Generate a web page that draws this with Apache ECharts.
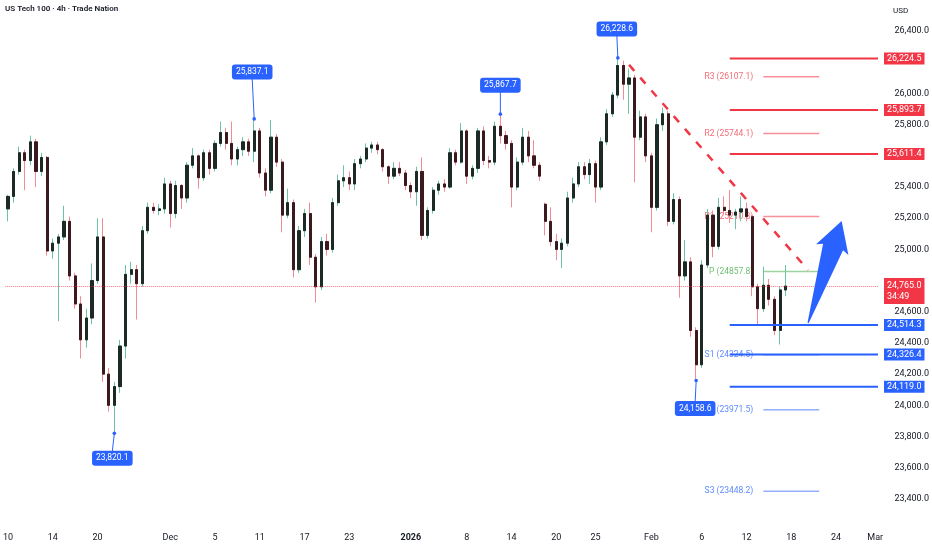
<!DOCTYPE html>
<html><head><meta charset="utf-8">
<script src="https://cdn.jsdelivr.net/npm/echarts@6/dist/echarts.min.js"></script>
<style>html,body{margin:0;padding:0;background:#fff}#c{width:932px;height:550px}</style>
</head><body><div id="c"></div>
<script>
// ---------- data ----------
const slotCount = 156;
const tickSlots  = [0, 8, 16, 29, 37, 45, 53, 61, 72, 82, 90, 98, 105, 115, 124, 132, 140, 148, 155];
const tickLabels = ['10','14','20','Dec','5','11','17','23','2026','8','14','20','25','Feb','6','12','18','24','Mar'];
// [open, high, low, close]
const candles = [
[25260,25350,25180,25340],[25340,25520,25300,25500],[25500,25660,25480,25620],[25620,25640,25380,25570],
[25570,25730,25540,25690],[25690,25710,25400,25500],[25500,25620,25470,25590],[25590,25600,24960,24990],
[24990,25070,24940,25040],[25040,25100,24540,25080],[25080,25280,25060,25180],[25180,25210,24800,24830],
[24830,24850,24620,24650],[24650,24700,24300,24420],[24420,24620,24370,24560],[24560,24910,24520,24800],
[24800,25200,24780,25080],[25080,25200,24150,24200],[24200,24240,23960,24000],[24000,24150,23820.1,24120],
[24120,24420,24080,24380],[24380,24900,24300,24840],[24840,24920,24780,24870],[24870,24900,24550,24780],
[24780,25150,24760,25120],[25120,25300,25100,25270],[25270,25300,25230,25250],[25250,25290,25220,25260],
[25260,25460,25230,25420],[25420,25440,25140,25230],[25230,25440,25200,25410],[25410,25420,25260,25330],
[25330,25560,25300,25540],[25540,25650,25520,25600],[25600,25610,25390,25460],[25460,25640,25440,25620],
[25620,25640,25480,25520],[25520,25700,25500,25680],[25680,25820,25660,25750],[25750,25780,25640,25680],
[25680,25820,25540,25580],[25580,25660,25540,25640],[25640,25720,25600,25690],[25690,25710,25600,25630],
[25630,25837.1,25560,25760],[25760,25780,25460,25490],[25490,25520,25340,25380],[25380,25830,25360,25720],
[25720,25740,25530,25560],[25560,25580,25110,25220],[25220,25390,25200,25300],[25300,25320,24820,24870],
[24870,25150,24850,25120],[25120,25260,25080,25230],[25230,25300,24900,24950],[24950,24970,24660,24760],
[24760,25080,24740,25050],[25050,25100,24960,25000],[25000,25330,24980,25300],[25300,25480,25280,25440],
[25440,25540,25400,25460],[25460,25500,25380,25420],[25420,25580,25380,25550],[25550,25600,25520,25580],
[25580,25680,25560,25650],[25650,25690,25620,25670],[25670,25690,25610,25640],[25640,25650,25500,25530],
[25530,25540,25420,25470],[25470,25560,25450,25520],[25520,25560,25470,25490],[25490,25510,25380,25410],
[25410,25430,25330,25370],[25370,25530,25280,25500],[25500,25590,25060,25090],[25090,25270,25070,25250],
[25250,25400,25230,25380],[25380,25440,25350,25420],[25420,25450,25370,25400],[25400,25650,25390,25620],
[25620,25640,25540,25560],[25560,25810,25550,25760],[25760,25770,25420,25470],[25470,25540,25450,25520],
[25520,25780,25490,25760],[25760,25790,25540,25570],[25570,25600,25520,25560],[25560,25820,25540,25790],
[25790,25867.7,25680,25730],[25730,25760,25640,25680],[25680,25700,25270,25400],[25400,25590,25380,25560],
[25560,25780,25540,25720],[25720,25760,25560,25600],[25600,25700,25520,25540],[25540,25560,25440,25470],
[25290,25300,25090,25180],[25180,25270,25020,25050],[25050,25100,24930,25000],[25000,25070,24880,25040],
[25040,25370,25020,25330],[25330,25460,25300,25420],[25420,25560,25400,25530],[25530,25560,25450,25480],
[25480,25580,25420,25550],[25550,25570,25300,25400],[25400,25720,25380,25690],[25690,25900,25670,25870],
[25870,26010,25850,25990],[25990,26228.6,25970,26180],[26180,26210,25960,26060],[26060,26160,25870,26100],
[26100,26120,25430,25720],[25720,25890,25700,25850],[25850,25870,25560,25600],[25600,25620,25110,25270],
[25270,25840,25250,25800],[25800,25910,25760,25870],[25870,25890,25150,25180],[25180,25360,25160,25320],
[25320,25340,24690,24830],[24830,25060,24800,24920],[24920,24950,24440,24480],[24480,24500,24158.6,24260],
[24260,24930,24240,24900],[24900,25260,24880,25220],[25220,25250,24950,25020],[25020,25330,25000,25270],
[25270,25340,25220,25250],[25250,25380,25170,25220],[25220,25260,25130,25240],[25240,25340,25180,25260],
[25260,25300,25180,25210],[25210,25220,24700,24760],[24760,24780,24520,24620],[24620,24890,24600,24770],
[24770,24810,24640,24680],[24680,24700,24450,24480],[24480,24760,24390,24740],[24740,24900,24700,24765]
];
const callouts = [[44, 25837.1], [88, 25867.7], [109, 26228.6], [123, 24158.6], [19, 23820.1]];
const resistanceLevels = [26224.5, 25893.7, 25611.4];
const supportLevels = [24514.3, 24326.4, 24119.0];
const pivotNames  = ['R3', 'R2', 'R1', 'P', 'S1', 'S2', 'S3'];
const pivotValues = [26107.1, 25744.1, 25210.8, 24857.8, 24324.5, 23971.5, 23448.2];
const lastPrice = 24765.0;
const countdown = '34:49';
const trendline = [[111, 26184], [143, 24868]];
const arrowPath = [[143, 24528], [149, 25182]];
const levelStartSlot = 129;
const pivotSlots = [135, 145];

// ---------- styles / helpers ----------
const FONT = 'Roboto, "Noto Sans", sans-serif';
const RED = '#f23645', BLUE = '#2962ff';
const fmt = v => Number(v).toLocaleString('en-US', {minimumFractionDigits: 1, maximumFractionDigits: 1});
const boxed = resistanceLevels.concat(supportLevels, [lastPrice]);
const calloutOffsets = [[-2, -47], [0, -29], [-1, -29], [-1, 28], [-2, 25]];
const categories = Array.from({length: slotCount}, (_, i) => String(i));
const wickData = candles.map(c => [c[0], c[3], c[2], c[1]]);
const bodyData = candles.map(c => [c[0], c[3], Math.min(c[0], c[3]), Math.max(c[0], c[3])]);

const chart = echarts.init(document.getElementById('c'), null, {renderer: 'canvas'});
chart.setOption({
  animation: false,
  backgroundColor: '#ffffff',
  title: {text: 'US Tech 100 · 4h · Trade Nation', left: 5, top: 5, padding: 0,
    textStyle: {fontFamily: FONT, fontSize: 8, fontWeight: 600, color: '#131722'}},
  graphic: [{type: 'text', left: 893, top: 7, style: {text: 'USD', font: '8px ' + FONT, fill: '#131722'}}],
  grid: {left: 0, right: 54, top: 0, bottom: 20},
  xAxis: {
    type: 'category', data: categories, boundaryGap: true,
    axisLine: {show: false}, axisTick: {show: false}, splitLine: {show: false},
    axisLabel: {
      margin: 3, fontFamily: FONT, fontSize: 9, color: '#131722',
      interval: (idx) => tickSlots.indexOf(idx) >= 0,
      formatter: (val, idx) => {
        const k = tickSlots.indexOf(idx);
        if (k < 0) return '';
        return tickLabels[k] === '2026' ? '{b|2026}' : tickLabels[k];
      },
      rich: {b: {fontWeight: 'bold', fontFamily: FONT, fontSize: 9, color: '#131722'}}
    }
  },
  yAxis: {
    type: 'value', position: 'right', min: 23200, max: 26600, interval: 200, scale: true,
    axisLine: {show: false}, axisTick: {show: false}, splitLine: {show: false},
    axisLabel: {
      margin: 51, align: 'right', fontFamily: FONT, fontSize: 9, color: '#131722',
      showMinLabel: false, showMaxLabel: false,
      formatter: v => boxed.some(b => Math.abs(b - v) < 50) ? '' : fmt(v)
    }
  },
  series: [
    { // pivot lines (behind candles)
      type: 'custom', clip: false, z: 1, silent: true,
      data: pivotValues.map((v, k) => [pivotSlots[0], v, k]),
      renderItem: (params, api) => {
        const v = api.value(1), k = api.value(2);
        const a = api.coord([pivotSlots[0], v]), b = api.coord([pivotSlots[1], v]);
        const n = pivotNames[k];
        const lc = n[0] === 'R' ? 'rgba(242,54,69,0.55)' : n[0] === 'P' ? 'rgba(76,175,80,0.55)' : 'rgba(41,98,255,0.5)';
        const tc = n[0] === 'R' ? 'rgba(242,54,69,0.75)' : n[0] === 'P' ? 'rgba(76,175,80,0.8)' : 'rgba(41,98,255,0.75)';
        return {type: 'group', children: [
          {type: 'line', shape: {x1: a[0], y1: a[1], x2: b[0], y2: b[1]}, style: {stroke: lc, lineWidth: 1.5}},
          {type: 'text', x: a[0] - 10, y: a[1], style: {text: n + ' (' + v.toFixed(1) + ')', fill: tc,
            font: '8.5px ' + FONT, align: 'right', verticalAlign: 'middle'}}
        ]};
      }
    },
    { // wicks
      type: 'candlestick', name: 'wick', z: 3, barWidth: '48%',
      data: wickData,
      itemStyle: {color: '#6cc3a6', color0: '#f08c98', borderColor: '#6cc3a6', borderColor0: '#f08c98', borderWidth: 1},
      markLine: {
        silent: true, symbol: ['none', 'none'], label: {show: false},
        data: [
          {yAxis: lastPrice, lineStyle: {type: 'dotted', color: RED, width: 1, opacity: 0.7}},
          [{coord: trendline[0], lineStyle: {type: [8, 9], color: RED, width: 2.5}}, {coord: trendline[1]}]
        ]
      }
    },
    { // bodies
      type: 'candlestick', name: 'body', z: 4, barWidth: '48%',
      data: bodyData,
      itemStyle: {color: '#1c2925', color0: '#3a1a1e', borderColor: '#1c2925', borderColor0: '#3a1a1e', borderWidth: 1}
    },
    { // key levels with right-axis boxes
      type: 'custom', clip: false, z: 10, silent: true,
      data: resistanceLevels.map(v => [levelStartSlot, v, 0]).concat(supportLevels.map(v => [levelStartSlot, v, 1])),
      renderItem: (params, api) => {
        const v = api.value(1);
        const color = api.value(2) === 0 ? RED : BLUE;
        const p = api.coord([api.value(0), v]);
        const right = params.coordSys.x + params.coordSys.width;
        return {type: 'group', children: [
          {type: 'line', shape: {x1: p[0], y1: p[1], x2: right, y2: p[1]}, style: {stroke: color, lineWidth: 2}},
          {type: 'text', x: right + 6, y: p[1], style: {text: fmt(v), fill: '#fff', backgroundColor: color,
            padding: [2, 3, 1, 3], font: '9px ' + FONT, align: 'left', verticalAlign: 'middle'}}
        ]};
      }
    },
    { // last price box
      type: 'custom', clip: false, z: 11, silent: true,
      data: [[candles.length - 1, lastPrice]],
      renderItem: (params, api) => {
        const p = api.coord([api.value(0), api.value(1)]);
        const right = params.coordSys.x + params.coordSys.width;
        return {type: 'text', x: right + 6, y: p[1] - 8, style: {text: fmt(api.value(1)) + '\n' + countdown,
          fill: '#fff', backgroundColor: RED, padding: [2, 3, 2, 3], lineHeight: 11,
          font: '9px ' + FONT, align: 'left', verticalAlign: 'top'}};
      }
    },
    { // arrow
      type: 'custom', clip: false, z: 12, silent: true,
      data: [[arrowPath[0][0], arrowPath[0][1], arrowPath[1][0], arrowPath[1][1]]],
      renderItem: (params, api) => {
        const t = api.coord([api.value(0), api.value(1)]);
        const h = api.coord([api.value(2), api.value(3)]);
        const dx = h[0] - t[0], dy = h[1] - t[1], L = Math.hypot(dx, dy);
        const u = [dx / L, dy / L], n = [-u[1], u[0]];
        const P = (a, b) => [t[0] + u[0] * a * L + n[0] * b, t[1] + u[1] * a * L + n[1] * b];
        const pts = [P(0, 0.6), P(0.745, 10.5), P(0.72, 17), P(1, 0), P(0.72, -17), P(0.745, -10.5), P(0, -0.6)];
        return {type: 'polygon', shape: {points: pts}, style: {fill: BLUE}};
      }
    },
    { // callouts
      type: 'custom', clip: false, z: 13, silent: true,
      data: callouts.map((c, k) => [c[0], c[1], k]),
      renderItem: (params, api) => {
        const p = api.coord([api.value(0), api.value(1)]);
        const off = calloutOffsets[api.value(2)];
        const bx = p[0] + off[0], by = p[1] + off[1];
        const edge = off[1] < 0 ? by + 7 : by - 7;
        return {type: 'group', children: [
          {type: 'line', shape: {x1: p[0], y1: p[1], x2: bx, y2: edge}, style: {stroke: BLUE, lineWidth: 1}},
          {type: 'circle', shape: {cx: p[0], cy: p[1], r: 1.8}, style: {fill: BLUE}},
          {type: 'text', x: bx, y: by, style: {text: fmt(api.value(1)), fill: '#fff', backgroundColor: BLUE,
            borderRadius: 3, padding: [3, 4, 3, 4], font: '8.5px ' + FONT, align: 'center', verticalAlign: 'middle'}}
        ]};
      }
    }
  ]
});
</script>
</body></html>
